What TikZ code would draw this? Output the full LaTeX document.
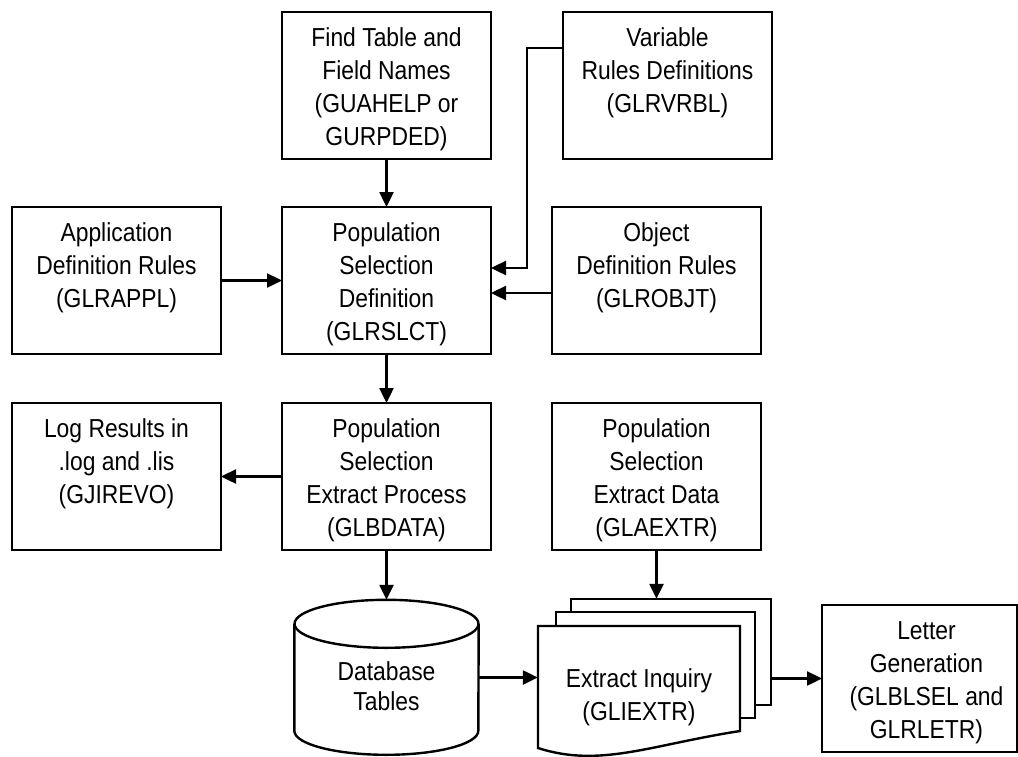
\documentclass[tikz,border=0pt]{standalone}
\usepackage{fontspec}
\setmainfont{Liberation Sans}[FakeStretch=0.88]
\usetikzlibrary{positioning, arrows.meta}

\newcommand{\boxlabel}[2][205pt]{\parbox[c][147pt][t]{#1}{\centering\rule{0pt}{34pt}#2}}

\begin{document}
\begin{tikzpicture}[
                x=1pt, y=-1pt,
                node distance=48pt and 61pt,
                arrow/.style={-{Triangle[length=15pt,width=14pt]}, line width=2.4pt},
                outline/.style={line width=2.4pt},
                procbox/.style={draw, line width=2.4pt, inner sep=0pt, outer sep=0pt, minimum width=209pt, minimum height=147pt},
                textstyle/.style={font=\fontsize{26pt}{33pt}\selectfont}
            ]
                \useasboundingbox (0,0) rectangle (1018,756);

                % Lookup nodes
                \node[procbox, textstyle] (find) at (386.5,85.5) {\boxlabel{Find Table and\\Field Names\\(GUAHELP or\\GURPDED)}};
                \node[procbox, textstyle, right=72pt of find] (vrbl) {\boxlabel{Variable\\Rules Definitions\\(GLRVRBL)}};

                % Rules nodes
                \node[procbox, textstyle, below=of find] (slct) {\boxlabel{Population\\Selection\\Definition\\(GLRSLCT)}};
                \node[procbox, textstyle, left=of slct] (appl) {\boxlabel{Application\\Definition Rules\\(GLRAPPL)}};
                \node[procbox, textstyle, right=of slct] (objt) {\boxlabel{Object\\Definition Rules\\(GLROBJT)}};

                % Extract nodes
                \node[procbox, textstyle, below=49pt of slct] (bdata) {\boxlabel{Population\\Selection\\Extract Process\\(GLBDATA)}};
                \node[procbox, textstyle, left=of bdata] (logres) {\boxlabel{Log Results in\\.log and .lis\\(GJIREVO)}};
                \node[procbox, textstyle, right=of bdata] (aextr) {\boxlabel{Population\\Selection\\Extract Data\\(GLAEXTR)}};

                % Stacked inquiry pages
                \draw[outline] (571,612) |- (771,599) |- (755,705);
                \draw[outline] (556,626) |- (755,612) |- (740,718);
                \draw[outline] (538,626) -- (740,626) -- (740,731)
                    .. controls (650,745) and (600,768) .. (538,748) -- cycle;

                % Output nodes
                \node[inner sep=0pt, minimum width=184pt, minimum height=155pt,
                      label={[textstyle, align=center, yshift=-8.5pt]center:{Database\\[-3pt]Tables}}] (db) at (386.5,677.5) {};
                \node[inner sep=0pt, minimum width=200pt, minimum height=106pt] (inqback) at (671,652) {};
                \node[inner sep=0pt, minimum width=202pt, minimum height=124pt,
                      label={[textstyle, align=center, yshift=-9pt]center:{Extract Inquiry\\(GLIEXTR)}}] (inq) at (639,688) {};
                \node[procbox, textstyle, minimum width=195pt] (letter) at (919.5,678.5) {\hspace*{14pt}\boxlabel[176pt]{Letter\\Generation\\(GLBLSEL and\\GLRLETR)}};

                % Database cylinder
                \draw[outline] (db.north) ++(0,24) ellipse [x radius=92pt, y radius=24pt];
                \draw[outline] (db.north west) ++(0,24) -- ([yshift=-131pt]db.north west)
                    arc[start angle=180, end angle=360, x radius=92pt, y radius=24pt] -- ([yshift=-24pt]db.north east);

                % Arrows
                \draw[arrow] (find) -- (slct);
                \draw[arrow] (appl) -- (slct);
                \draw[arrow] ([yshift=-12.5pt]objt.west) -- ([yshift=-12.5pt]slct.east);
                \draw[arrow] ([yshift=37.5pt]vrbl.west) -- ++(-36,0) |- ([yshift=12.5pt]slct.east);
                \draw[arrow] (slct) -- (bdata);
                \draw[arrow] (bdata) -- (logres);
                \draw[arrow] (bdata) -- (db);
                \draw[arrow] (aextr) -- (aextr.south |- inqback.north);
                \draw[arrow] (db.east) -- (db.east -| inq.west);
                \draw[arrow] (inqback.east |- letter.west) -- (letter.west);
            \end{tikzpicture}
\end{document}
